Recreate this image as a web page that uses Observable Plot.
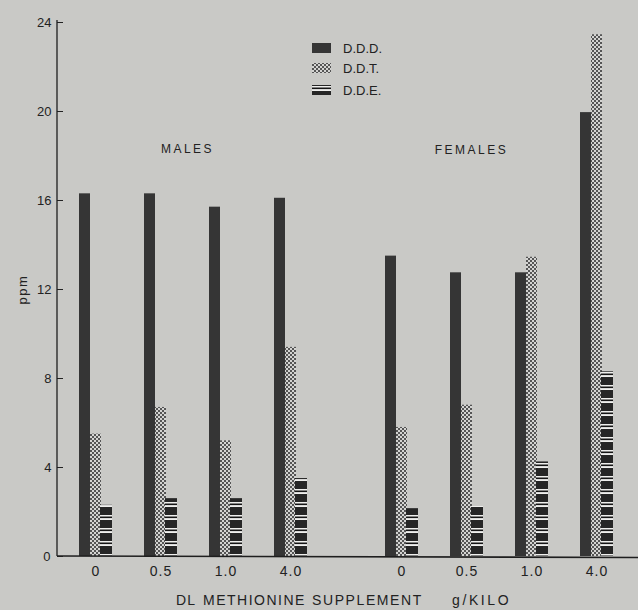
<!DOCTYPE html>
<html><head><meta charset="utf-8">
<script src="https://cdn.jsdelivr.net/npm/d3@7"></script>
<script src="https://cdn.jsdelivr.net/npm/@observablehq/plot@0.6"></script>
<style>
html,body{margin:0;padding:0;background:#c9c9c6;}
#wrap{position:relative;width:638px;height:610px;overflow:hidden;}
#legend{position:absolute;left:0;top:0;}
</style></head><body>
<svg width="0" height="0" style="position:absolute">
<defs>
<pattern id="ddt" width="4" height="4" patternUnits="userSpaceOnUse">
<rect width="4" height="4" fill="#d4d4d2"/>
<rect width="2" height="2" fill="#555"/>
<rect x="2" y="2" width="2" height="2" fill="#555"/>
</pattern>
<pattern id="dde" width="20" height="13" patternUnits="userSpaceOnUse">
<rect width="20" height="13" fill="#efefed"/>
<rect y="0" width="20" height="8" fill="#262626"/>
<rect y="9.5" width="20" height="1.6" fill="#151515"/>
</pattern>
</defs></svg>
<div id="wrap"></div>
<script>
const doses = ["0", "0.5", "1.0", "4.0"];
const groups = ["MALES", "FEMALES"];
const series = ["D.D.D.", "D.D.T.", "D.D.E."];
const maleDDD = [16.3, 16.3, 15.7, 16.1];
const maleDDT = [5.5, 6.7, 5.2, 9.4];
const maleDDE = [2.3, 2.6, 2.6, 3.5];
const femaleDDD = [13.5, 12.75, 12.75, 19.95];
const femaleDDT = [5.8, 6.8, 13.45, 23.45];
const femaleDDE = [2.15, 2.25, 4.25, 8.3];
const yTicks = [0, 4, 8, 12, 16, 20, 24];
const xTitleWords = ["DL", "METHIONINE", "SUPPLEMENT", "g/KILO"];
const yTitle = "ppm";

const table = {MALES: [maleDDD, maleDDT, maleDDE], FEMALES: [femaleDDD, femaleDDT, femaleDDE]};
const rows = [];
groups.forEach(g => series.forEach((s, si) => doses.forEach((d, di) =>
  rows.push({group: g, series: s, dose: d, value: table[g][si][di]}))));

const fills = {"D.D.D.": "#353535", "D.D.T.": "url(#ddt)", "D.D.E.": "url(#dde)"};
const insets = {"D.D.D.": [0, 22], "D.D.T.": [11, 11], "D.D.E.": [21, 0]};

const font = "'Liberation Sans', Arial, sans-serif";

const chart = Plot.plot({
  width: 638, height: 610,
  marginLeft: 57, marginRight: 2.5, marginTop: 22, marginBottom: 54,
  style: {background: "transparent", fontFamily: font, fontSize: "13px", color: "#222"},
  fx: {domain: groups, paddingInner: 0.11, paddingOuter: 0, axis: null, label: null},
  x: {domain: doses, paddingInner: 0.5, paddingOuter: 0.33, label: null},
  y: {domain: [0, 24], label: yTitle},
  marks: [
    ...series.map(s => Plot.barY(rows.filter(r => r.series === s), {
      fx: "group", x: "dose", y: "value", fill: fills[s],
      insetLeft: insets[s][0], insetRight: insets[s][1]
    })),
    Plot.axisY({ticks: yTicks, tickSize: -6, tickPadding: 12, fontSize: 13,
      label: yTitle, labelAnchor: "center", labelOffset: 40, labelArrow: "none", stroke: "#222"}),
    Plot.axisX({tickSize: 0, tickPadding: 10, fontSize: 14, label: null}),
    Plot.text(["MALES"], {fx: d => d, text: d => d, frameAnchor: "top", dy: 122, dx: -6,
      fontSize: 12, fill: "#222"}),
    Plot.text(["FEMALES"], {fx: d => d, text: d => d, frameAnchor: "top", dy: 123, dx: -28,
      fontSize: 12, fill: "#222"})
  ]
});
document.getElementById("wrap").appendChild(chart);

const svg = d3.select(chart);
svg.selectAll("text").each(function () {
  const s = this.textContent;
  if (s === "MALES" || s === "FEMALES") d3.select(this).style("letter-spacing", "2.5px");
  else if (s === yTitle) d3.select(this).style("letter-spacing", "1.5px");
  else if (doses.includes(s)) d3.select(this).style("letter-spacing", "1px");
});

// axis lines via scales
const y = chart.scale("y");
const y0 = y.apply(0), yTop = y.apply(24) - 2;
svg.append("line").attr("x1", 57).attr("x2", 638).attr("y1", y0).attr("y2", y0 + 1.5)
  .attr("stroke", "#1e1e1e").attr("stroke-width", 1.6);
svg.append("line").attr("x1", 57).attr("x2", 57).attr("y1", yTop).attr("y2", y0)
  .attr("stroke", "#1e1e1e").attr("stroke-width", 1.3);

// x axis title (word placement as in the original)
const wordX = [176, 203, 312, 452];
const wordSpacing = [1.2, 1.5, 1.6, 2.6];
const t = svg.append("text").attr("y", 605).attr("fill", "#222").attr("text-anchor", "start")
  .style("font-family", font).style("font-size", "14px");
xTitleWords.forEach((w, i) => t.append("tspan").attr("x", wordX[i])
  .style("letter-spacing", wordSpacing[i] + "px").text(w));

// legend
const lg = d3.select("#wrap").append("svg").attr("id", "legend").attr("width", 638).attr("height", 120);
const ly = [43, 63, 85];
series.forEach((s, i) => {
  lg.append("rect").attr("x", 312).attr("y", ly[i]).attr("width", 19).attr("height", 10).attr("fill", fills[s]);
  lg.append("text").attr("x", 343).attr("y", ly[i] + 5).attr("dy", "0.35em").attr("fill", "#222")
    .style("font-family", font).style("font-size", "13px").text(s);
});
</script>
</body></html>
